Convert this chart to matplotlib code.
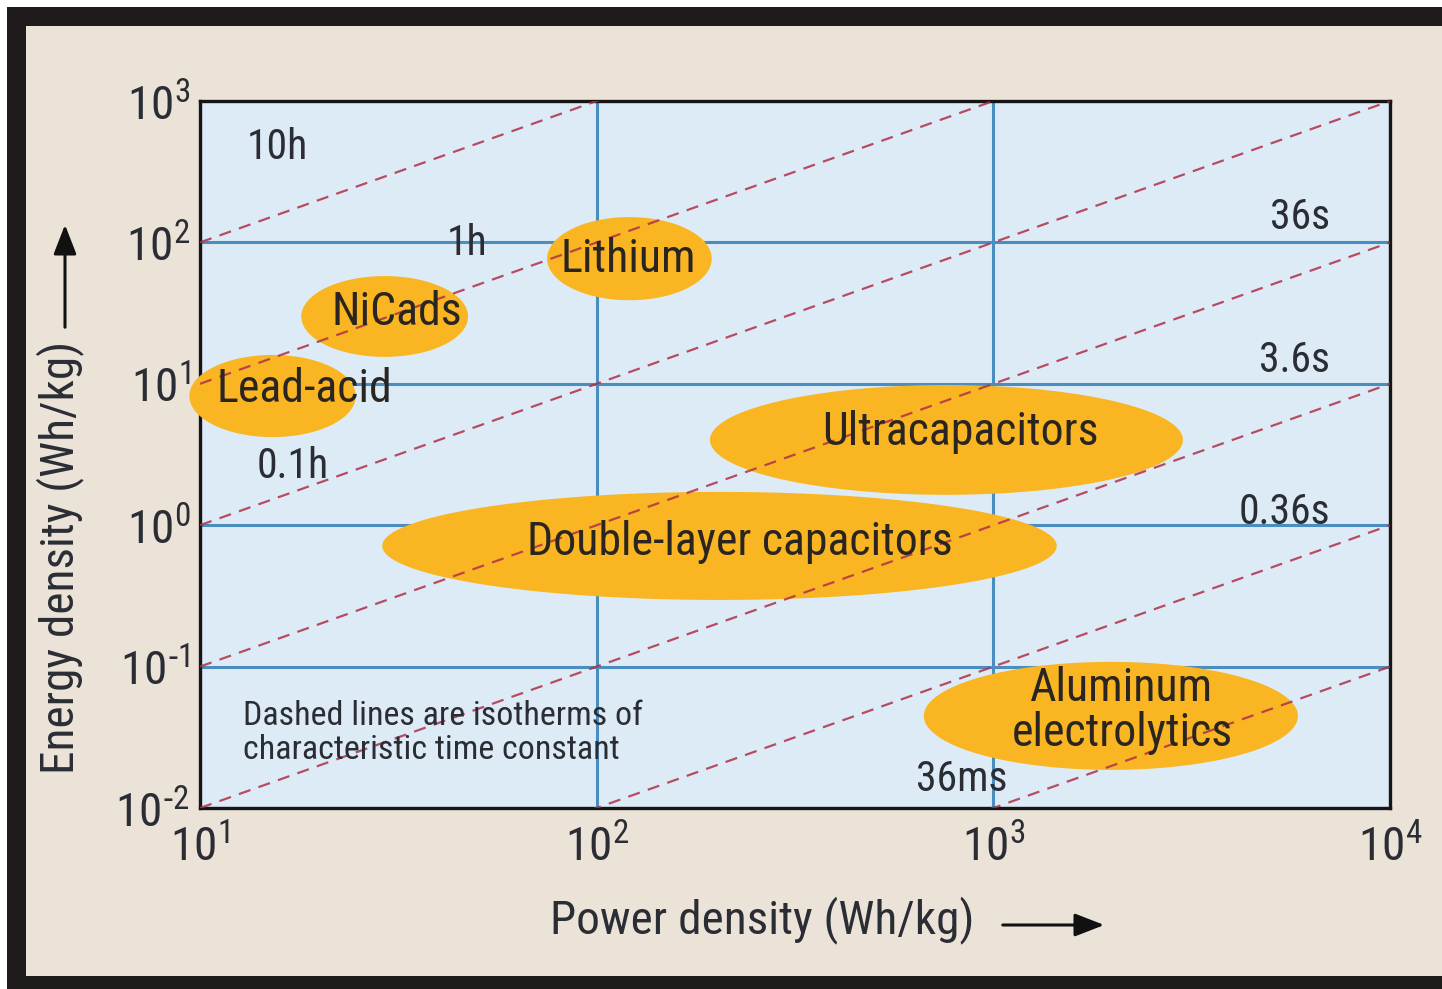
import numpy as np
import matplotlib
matplotlib.use("Agg")
import matplotlib.pyplot as plt
from matplotlib.patches import Rectangle, FancyArrowPatch
from matplotlib import font_manager as fm

# ---- pick a condensed sans font if one is installed ----
def pick_font():
    entries = fm.fontManager.ttflist
    def ok(f):
        w = f.weight if isinstance(f.weight, int) else {'normal': 400, 'regular': 400}.get(str(f.weight), 700)
        return f.style == 'normal' and w == 400
    prefs = ['Liberation Sans Narrow', 'Roboto Condensed', 'Open Sans Condensed',
             'Noto Sans Condensed', 'DejaVu Sans Condensed', 'Arial Narrow']
    for p in prefs:
        for f in entries:
            if f.name == p and ok(f):
                return f.name, f.stretch
    for f in entries:
        if ok(f) and f.stretch in ('condensed', 'semi-condensed') and \
                any(k in f.name for k in ('Noto Sans', 'DejaVu Sans', 'Roboto', 'Open Sans', 'Liberation')) \
                and 'Mono' not in f.name and 'CJK' not in f.name and 'Serif' not in f.name:
            return f.name, f.stretch
    for f in entries:
        if ok(f) and ('Narrow' in f.fname or 'Condensed' in f.fname) and 'Mono' not in f.fname \
                and 'Serif' not in f.fname:
            return f.name, f.stretch
    return 'Roboto', 'normal'

font_name, font_stretch = pick_font()
plt.rcParams['font.family'] = [font_name, 'DejaVu Sans']
plt.rcParams['font.stretch'] = font_stretch
plt.rcParams['mathtext.default'] = 'regular'

# ---------------- data ----------------
x_ticks = [1e1, 1e2, 1e3, 1e4]
x_tick_labels = [r'$10^{1}$', r'$10^{2}$', r'$10^{3}$', r'$10^{4}$']
y_ticks = [1e-2, 1e-1, 1e0, 1e1, 1e2, 1e3]
y_tick_labels = [r'$10^{\text{-}2}$', r'$10^{\text{-}1}$', r'$10^{0}$', r'$10^{1}$', r'$10^{2}$', r'$10^{3}$']

# isotherms: E = P * t  (t in hours)
iso_time_h = [10, 1, 0.1, 0.01, 0.001, 0.0001, 0.00001]
iso_labels = ['10h', '1h', '0.1h', '36s', '3.6s', '0.36s', '36ms']
iso_label_x = [15.7, 47.1, 17.1, 7050, 7050, 7050, 834]
iso_label_y = [466, 97.5, 2.6, 149, 14.7, 1.22, 0.0160]
iso_label_ha = ['center', 'center', 'center', 'right', 'right', 'right', 'center']

# technologies: power range and energy range (ellipse extents)
tech_names = ['Lithium', 'NiCads', 'Lead-acid', 'Ultracapacitors',
              'Double-layer capacitors', 'Aluminum\nelectrolytics']
tech_p_lo = [75, 18, 9.4, 193, 28.8, 668]
tech_p_hi = [195, 47.4, 24.7, 3006, 1445, 5860]
tech_e_lo = [39, 15.5, 4.2, 1.64, 0.296, 0.0186]
tech_e_hi = [151, 57.8, 16, 9.8, 1.72, 0.108]
tech_label_x = [120, 31.4, 18.3, 824, 230, 2110]
tech_label_y = [76, 32.2, 9.2, 4.56, 0.76, 0.0490]

# ---------------- style ----------------
W, H = 1442, 989
fig = plt.figure(figsize=(W / 100, H / 100), dpi=100, facecolor='white')

border_col = '#1f1b1b'
beige = '#ECE3D8'
plot_bg = '#DDEBF6'
grid_col = '#4A8EC0'
ell_col = '#F9B622'
dash_col = '#B03048'
txt_col = '#2b2d35'

fig.add_artist(Rectangle((7 / W, 0), 1, 1 - 7 / H, transform=fig.transFigure,
                         facecolor=border_col, edgecolor='none', zorder=-10))
fig.add_artist(Rectangle((26 / W, 13 / H), 1, (976 - 26) / H, transform=fig.transFigure,
                         facecolor=beige, edgecolor='none', zorder=-9))

ax = fig.add_axes([200 / W, 1 - 808 / H, (1390 - 200) / W, (808 - 101) / H])
ax.set_facecolor(plot_bg)
ax.set_xscale('log')
ax.set_yscale('log')
ax.set_xlim(x_ticks[0], x_ticks[-1])
ax.set_ylim(y_ticks[0], y_ticks[-1])
ax.set_xticks(x_ticks)
ax.set_xticklabels(x_tick_labels)
ax.set_yticks(y_ticks)
ax.set_yticklabels(y_tick_labels)
ax.minorticks_off()
ax.tick_params(axis='both', length=0, labelsize=34, colors=txt_col)
ax.tick_params(axis='x', pad=11)
ax.tick_params(axis='y', pad=7)
ax.grid(True, color=grid_col, lw=2.2, zorder=1)
ax.set_axisbelow(True)
for s in ax.spines.values():
    s.set_linewidth(2.4)
    s.set_color('#151515')

# ellipses (drawn as ellipses in log space)
theta = np.linspace(0, 2 * np.pi, 200)
for plo, phi, elo, ehi in zip(tech_p_lo, tech_p_hi, tech_e_lo, tech_e_hi):
    cx = (np.log10(plo) + np.log10(phi)) / 2
    rx = (np.log10(phi) - np.log10(plo)) / 2
    cy = (np.log10(elo) + np.log10(ehi)) / 2
    ry = (np.log10(ehi) - np.log10(elo)) / 2
    px = 10 ** (cx + rx * np.cos(theta))
    py = 10 ** (cy + ry * np.sin(theta))
    ax.fill(px, py, color=ell_col, lw=0, zorder=2.6, clip_on=False)

# isotherm dashed lines
P = np.array([x_ticks[0], x_ticks[-1]])
for t in iso_time_h:
    ax.plot(P, P * t, ls=(0, (5.5, 3.8)), color=dash_col, lw=1.6, alpha=0.85, zorder=2.7)

for lab, lx, ly, ha in zip(iso_labels, iso_label_x, iso_label_y, iso_label_ha):
    ax.text(lx, ly, lab, fontsize=30, color=txt_col, ha=ha, va='center', zorder=5)

for name, lx, ly in zip(tech_names, tech_label_x, tech_label_y):
    ax.text(lx, ly, name, fontsize=33, color='#2a2520', ha='center', va='center',
            zorder=5, linespacing=1.05)

ax.text(0.036, 0.106, 'Dashed lines are isotherms of\ncharacteristic time constant',
        transform=ax.transAxes, fontsize=24.5, color=txt_col, ha='left', va='center',
        linespacing=1.05, zorder=5)

# axis labels with arrows
fig.text(762 / W, 1 - 920 / H, 'Power density (Wh/kg)', fontsize=34, color=txt_col,
         ha='center', va='center')
fig.add_artist(FancyArrowPatch(
    (1000 / W, 1 - 925 / H), (1107 / W, 1 - 925 / H), transform=fig.transFigure,
    arrowstyle='-|>,head_length=0.9,head_width=0.35', mutation_scale=20,
    color='#111111', lw=2.2))

fig.text(60 / W, 1 - 557 / H, 'Energy density (Wh/kg)', fontsize=34, color=txt_col,
         ha='center', va='center', rotation=90)
fig.add_artist(FancyArrowPatch(
    (65 / W, 1 - 330 / H), (65 / W, 1 - 222 / H), transform=fig.transFigure,
    arrowstyle='-|>,head_length=0.9,head_width=0.35', mutation_scale=20,
    color='#111111', lw=2.2))

fig.savefig('out.png', dpi=100, facecolor=fig.get_facecolor())
